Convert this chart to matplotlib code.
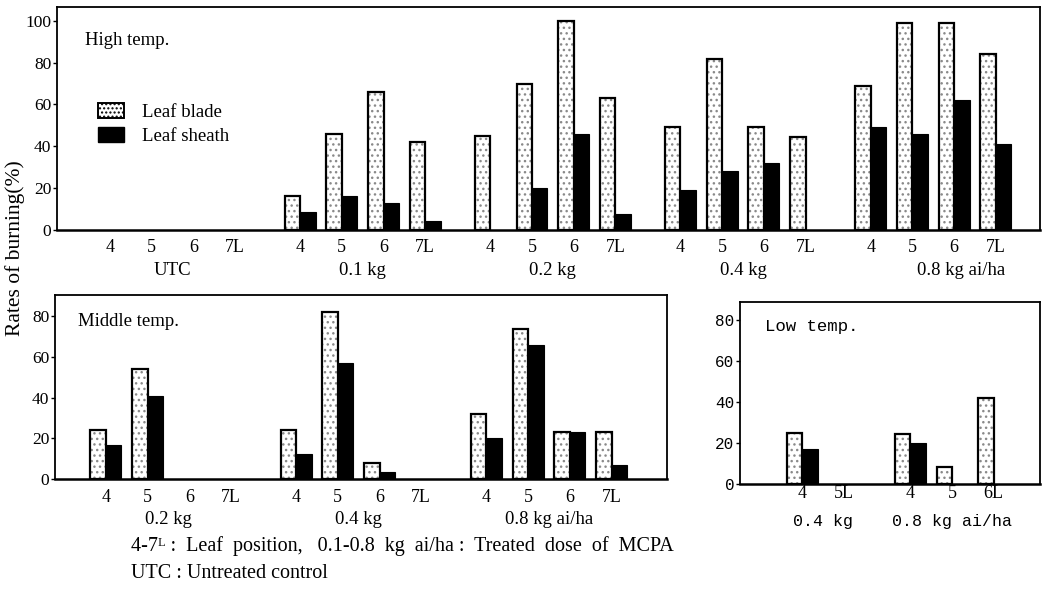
import matplotlib
matplotlib.use("Agg")
import matplotlib.pyplot as plt
from matplotlib.patches import Patch

plt.rcParams['font.family'] = ['Liberation Serif', 'DejaVu Serif']
plt.rcParams['mathtext.default'] = 'regular'
plt.rcParams['hatch.linewidth'] = 1.0

# --- donnees (%) ---
leaf_pos = ['4', '5', '6', '7L']

high_groups = ['UTC', '0.1 kg', '0.2 kg', '0.4 kg', '0.8 kg ai/ha']
high_blade = [[0, 0, 0, 0], [16, 46, 66, 42], [45, 70, 100, 63], [49, 82, 49, 44.5], [69, 99, 99, 84]]
high_sheath = [[0, 0, 0, 0], [8.5, 16, 12.5, 4], [0, 20, 46, 7.5], [19, 28, 32, 0], [49, 46, 62, 41]]

mid_groups = ['0.2 kg', '0.4 kg', '0.8 kg ai/ha']
mid_blade = [[24, 54, 0, 0], [24, 82, 8, 0], [32, 74, 23, 23]]
mid_sheath = [[16.5, 41, 0, 0], [12.5, 57, 3.5, 0], [20, 66, 23, 7]]

low_groups = ['0.4 kg', '0.8 kg ai/ha']
low_pos = [['4', '5L'], ['4', '5', '6L']]
low_blade = [[25, 0], [24.5, 8, 42]]
low_sheath = [[17, 0], [20, 0, 0]]

W, H = 1043, 590
BW = 0.37


def rect(l, t, r, b):
    return [l / W, 1 - b / H, (r - l) / W, (b - t) / H]


def panel(ax, groups, pos, blade, sheath, stride, xlim, ylim, yticks,
          title, title_xy, tick_pad, glab_off, last_shift=0.0, mono=False):
    xs, labs = [], []
    for g, name in enumerate(groups):
        x0 = g * stride
        gx = [x0 + i for i in range(len(pos[g]))]
        for i, x in enumerate(gx):
            b, s = blade[g][i], sheath[g][i]
            if b > 0:
                ax.bar(x - BW, b, width=BW, align='edge', color='white',
                       edgecolor='#8a8a8a', hatch='...', linewidth=0, zorder=2)
                ax.bar(x - BW, b, width=BW, align='edge', fill=False,
                       edgecolor='black', linewidth=1.6, zorder=3)
            if s > 0:
                ax.bar(x, s, width=BW, align='edge', color='black',
                       edgecolor='black', linewidth=0.8, zorder=3)
        xs += gx
        labs += pos[g]
        cx = (gx[0] + gx[-1]) / 2
        if g == len(groups) - 1:
            cx += last_shift
        ax.annotate(name, xy=(cx, 0), xycoords=('data', 'axes fraction'),
                    xytext=(0, -glab_off * 0.72), textcoords='offset points',
                    ha='center', va='center', fontsize=12 if mono else 13.5,
                    family='Liberation Mono' if mono else None)
    ax.set_xticks(xs)
    ax.set_xticklabels(labs, fontsize=13)
    ax.tick_params(axis='x', length=0, pad=tick_pad)
    ax.set_yticks(yticks)
    ax.tick_params(axis='y', length=3, width=1, pad=1, labelsize=12.5, direction='out')
    if mono:
        for t in ax.get_yticklabels():
            t.set_family('Liberation Mono')
            t.set_fontsize(11.5)
    ax.set_xlim(*xlim)
    ax.set_ylim(*ylim)
    for sp in ax.spines.values():
        sp.set_linewidth(1.3)
    ax.spines['bottom'].set_linewidth(1.8)
    ax.text(title_xy[0], title_xy[1], title, transform=ax.transAxes,
            fontsize=13.5 if not mono else 12.5, va='center', ha='left',
            family='Liberation Mono' if mono else None)


fig = plt.figure(figsize=(W / 100, H / 100), dpi=100)

ax1 = fig.add_axes(rect(57, 6.5, 1040, 229.5))
panel(ax1, high_groups, [leaf_pos] * 5, high_blade, high_sheath, 4.56,
      (-1.27, 22.3), (0, 107), [0, 20, 40, 60, 80, 100],
      'High temp.', ((85 - 57) / 983, 1 - (40 - 6.5) / 223), 7, 41, last_shift=0.68)

ax2 = fig.add_axes(rect(55, 295, 667, 479))
panel(ax2, mid_groups, [leaf_pos] * 3, mid_blade, mid_sheath, 4.56,
      (-1.22, 13.45), (0, 90.5), [0, 20, 40, 60, 80],
      'Middle temp.', ((78 - 55) / 612, 1 - (322 - 295) / 184), 7, 40)

ax3 = fig.add_axes(rect(740, 302, 1040, 483.5))
panel(ax3, low_groups, low_pos, low_blade, low_sheath, 2.6,
      (-1.49, 5.71), (0, 89), [0, 20, 40, 60, 80],
      'Low temp.', ((765 - 740) / 300, 1 - (327 - 302) / 181.5), 1, 38, mono=True)

handles = [Patch(facecolor='white', edgecolor='black', hatch='....', linewidth=1.4),
           Patch(facecolor='black', edgecolor='black')]
fig.legend(handles, ['Leaf blade', 'Leaf sheath'], loc='upper left',
           bbox_to_anchor=(98 / W, 1 - 103 / H), bbox_transform=fig.transFigure,
           frameon=False, fontsize=13.5, handlelength=1.4, handleheight=0.82,
           handletextpad=0.95, labelspacing=0.35, borderpad=0, borderaxespad=0)

fig.text(15 / W, 1 - 248 / H, 'Rates of burning(%)', rotation=90,
         ha='center', va='center', fontsize=15.5)

fig.text(131 / W, 1 - 546 / H,
         '4-7ᴸ :  Leaf  position,   0.1-0.8  kg  ai/ha :  Treated  dose  of  MCPA',
         ha='left', va='center', fontsize=14.5)
fig.text(131 / W, 1 - 573 / H, 'UTC : Untreated control',
         ha='left', va='center', fontsize=14.5)

plt.savefig("out.png", dpi=100)
